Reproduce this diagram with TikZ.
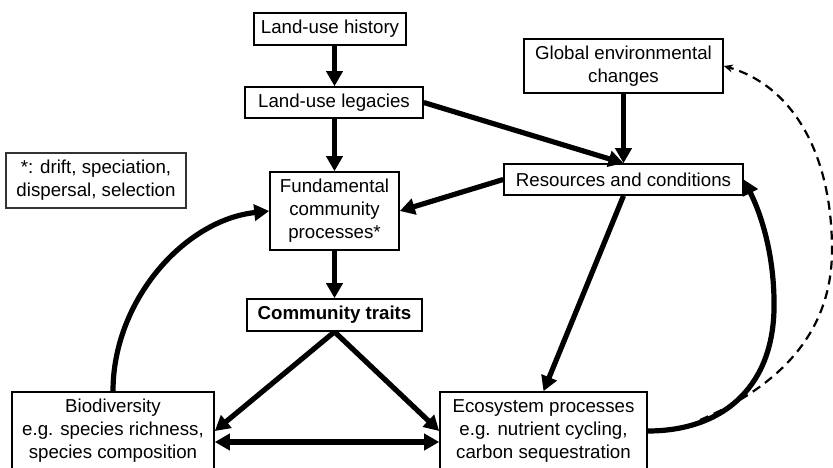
\documentclass[tikz,border=0pt]{standalone}
\usepackage{fontspec}
\setmainfont{Liberation Sans}
\usetikzlibrary{arrows.meta}
\usetikzlibrary{positioning}

\begin{document}
\begin{tikzpicture}[%
  x=1pt, y=-1pt,
  >={Triangle[length=15pt,width=16pt]},
  box/.style={draw, line width=1.6pt, inner sep=0pt, align=center,
    font=\fontsize{18.7}{23}\selectfont},
  link/.style={->, line width=5.2pt},
  % yscale=0.8,
]

  \useasboundingbox (0,0) rectangle (833,468);

  \node[box, minimum width=152pt, minimum height=32pt] (hist) at (330,29) {Land-use history};
  \node[box, minimum width=178pt, minimum height=31pt] (leg) at (334,102.5) {Land-use legacies};
  \node[box, minimum width=199pt, minimum height=54pt] (glob) at (623.5,66) {Global environmental\\changes};
  \node[box, minimum width=239pt, minimum height=31pt] (res) at (623.5,179.5) {Resources and conditions};
  \node[box, minimum width=129pt, minimum height=78pt] (fund) at (334.5,211) {Fundamental\\community\\processes*};
  \node[box, line width=1.2pt, draw=black!80, minimum width=180pt, minimum height=55pt] (note) at (96,180.5) {*: drift, speciation,\\dispersal, selection};
  \node[box, minimum width=175pt, minimum height=32pt, font=\fontsize{18.7}{23}\selectfont\bfseries] (trait) at (334.5,315) {Community traits};
  \node[box, minimum width=202pt, minimum height=78pt] (bio) at (113,431) {Biodiversity\\e.g. species richness,\\species composition};
  \node[box, minimum width=207pt, minimum height=78pt] (eco) at (543.5,431) {Ecosystem processes\\e.g. nutrient cycling,\\carbon sequestration};

  \coordinate (d0) at (700,420);

  \draw[link] (hist.south -| fund) -- (leg.north -| fund);
  \draw[link] (leg.south -| fund) -- (fund.north);
  \draw[link] (leg.east) -- (res.north);
  \draw[link] (glob) -- (res);
  \draw[link] (res.west) -- (fund.east);
  \draw[link] (fund) -- (trait);
  \draw[link] (trait.south) -- (bio.east);
  \draw[link] (trait.south) -- (eco.west);
  \draw[link, <->] ([yshift=-11pt]bio.east) -- ([yshift=-11pt]eco.west);
  \draw[link] (res.south) -- (eco.north);

  \draw[link] (bio.north) .. controls (113,300) and (185,220) .. (fund.west);
  \draw[link] (eco.east) .. controls (720,431) and (772,390) .. (774,310)
    .. controls (775,260) and (763,218) .. (res.east);

  \draw[-{Stealth[length=9pt,width=8pt]}, line width=2.2pt, dash pattern=on 9pt off 6pt]
    (d0) .. controls (770,390) and (832,340) .. (832,250)
    .. controls (832,150) and (790,85) .. (glob.east);

\end{tikzpicture}
\end{document}
